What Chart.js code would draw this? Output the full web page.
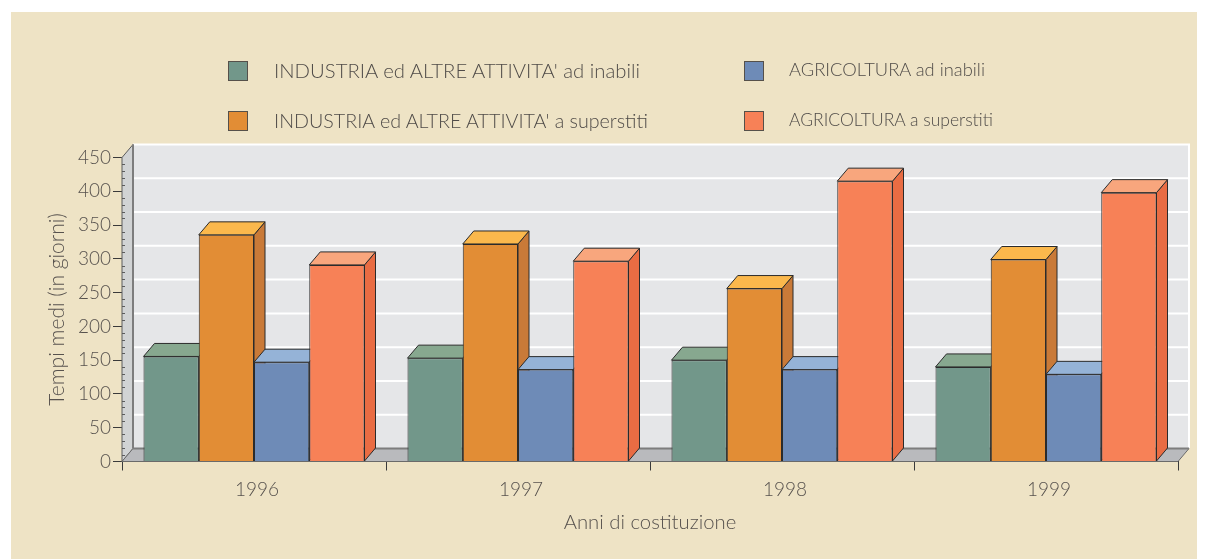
<!DOCTYPE html>
<html lang="it">
<head>
    <meta charset="UTF-8">
    <title>Tempi medi</title>
    <script src="https://cdn.jsdelivr.net/npm/chart.js"></script>
    <style>
        html, body { margin: 0; padding: 0; background: #fff; overflow: hidden; }
        #pannello { position: absolute; left: 11px; top: 12px; width: 1186px; height: 547px; background: #eee3c5; }
        #contenitore { position: absolute; left: 0; top: 0; width: 1208px; height: 559px; }
        .voce { position: absolute; font-family: Lato, sans-serif; font-weight: 300; color: #4f4b48; white-space: nowrap; transform-origin: left center; }
        .quadro { position: absolute; width: 20px; height: 20px; box-sizing: border-box; border: 1px solid #55504a; }
    </style>
</head>
<body>
    <div id="pannello"></div>
    <div id="contenitore"><canvas id="grafico"></canvas></div>
    <div id="legenda"></div>

    <script>
        const anni = ['1996', '1997', '1998', '1999'];
        const nomiSerie = [
            "INDUSTRIA ed ALTRE ATTIVITA' ad inabili",
            "INDUSTRIA ed ALTRE ATTIVITA' a superstiti",
            'AGRICOLTURA ad inabili',
            'AGRICOLTURA a superstiti'
        ];
        const industriaInabili = [155.5, 153, 150, 140];
        const industriaSuperstiti = [335.5, 322, 256, 299];
        const agricolturaInabili = [147, 136, 136, 129];
        const agricolturaSuperstiti = [291, 296.5, 415, 398];

        const coloriFronte = ['#72978a', '#e28d35', '#6e8bb7', '#f78157'];
        const coloriSopra = ['#87a88f', '#fbb84c', '#95b3d7', '#f8a67d'];
        const coloriLato = ['#5f8072', '#c97a38', '#5a779f', '#e96c43'];

        const dx = 11, dy = -13;

        function poligono(c, punti, riempi, bordo) {
            c.beginPath();
            punti.forEach((p, i) => i ? c.lineTo(p[0], p[1]) : c.moveTo(p[0], p[1]));
            c.closePath();
            c.fillStyle = riempi;
            c.fill();
            if (bordo) {
                c.strokeStyle = bordo;
                c.lineWidth = 1;
                c.stroke();
            }
        }

        function linea(c, x1, y1, x2, y2, colore, spessore) {
            c.strokeStyle = colore;
            c.lineWidth = spessore;
            c.beginPath();
            c.moveTo(x1, y1);
            c.lineTo(x2, y2);
            c.stroke();
        }

        const scena3d = {
            id: 'scena3d',
            beforeDatasetsDraw(chart) {
                const c = chart.ctx, a = chart.chartArea, y = chart.scales.y;
                // parete di fondo, parete sinistra e pavimento
                poligono(c, [[a.left + dx, a.top + dy], [a.right + dx, a.top + dy], [a.right + dx, a.bottom + dy], [a.left + dx, a.bottom + dy]], '#e5e6e8');
                y.ticks.forEach(t => {
                    if (t.value === 0) return;
                    const py = y.getPixelForValue(t.value) + dy;
                    linea(c, a.left + dx, py, a.right + dx + 1, py, '#fff', 2);
                });
                linea(c, a.right + dx, a.top + dy, a.right + dx, a.bottom + dy, '#fff', 2);
                poligono(c, [[a.left, a.top], [a.left + dx, a.top + dy], [a.left + dx, a.bottom + dy], [a.left, a.bottom]], '#d1d3d4', '#5c5c5c');
                linea(c, a.left + dx, a.top + dy, a.left + dx, a.bottom + dy, '#7d7d7d', 2);
                poligono(c, [[a.left, a.bottom], [a.left + dx, a.bottom + dy], [a.right + dx, a.bottom + dy], [a.right, a.bottom]], '#b9babd', '#6a6a6a');
                linea(c, a.left + dx, a.bottom + dy, a.right + dx, a.bottom + dy, '#7d7d7d', 2);
                // tacche minori sull'asse verticale
                for (let v = 10; v < y.max; v += 10) {
                    if (v % 50 === 0) continue;
                    const py = Math.round(y.getPixelForValue(v)) + 0.5;
                    linea(c, a.left, py, a.left + 3, py, '#5c5c5c', 1);
                }
            },
            beforeDatasetDraw() {
                return false;
            },
            afterDatasetsDraw(chart) {
                const c = chart.ctx;
                // serie da sinistra a destra, ogni barra copre il lato della precedente
                chart.data.datasets.forEach((ds, i) => {
                    chart.getDatasetMeta(i).data.forEach(b => {
                        const l = b.x - b.width / 2, r = b.x + b.width / 2, t = b.y, f = b.base;
                        poligono(c, [[r, t], [r + dx, t + dy], [r + dx, f + dy], [r, f]], coloriLato[i], '#2b2b2b');
                        poligono(c, [[l, t], [l + dx, t + dy], [r + dx, t + dy], [r, t]], coloriSopra[i], '#2b2b2b');
                        b.draw(c);
                    });
                });
            }
        };

        const colTesto = '#57524e';
        const fontTick = { family: 'Lato', weight: '300', size: 19 };
        const fontTitoloX = { family: 'Lato', weight: '300', size: 20.3 };
        const fontTitoloY = { family: 'Lato', weight: '300', size: 21 };

        new Chart(document.getElementById('grafico'), {
            type: 'bar',
            data: {
                labels: anni,
                datasets: [industriaInabili, industriaSuperstiti, agricolturaInabili, agricolturaSuperstiti].map((valori, i) => ({
                    label: nomiSerie[i],
                    data: valori,
                    backgroundColor: coloriFronte[i],
                    borderColor: '#2b2b2b',
                    borderWidth: 1,
                    categoryPercentage: 221 / 264,
                    barPercentage: 1
                }))
            },
            options: {
                responsive: true,
                maintainAspectRatio: false,
                animation: false,
                layout: { padding: { left: 0, right: 30, top: 157.5, bottom: 0 } },
                plugins: { legend: { display: false }, tooltip: { enabled: false } },
                scales: {
                    x: {
                        afterFit(s) { s.height = 97.5; },
                        border: { color: '#2b2b2b', width: 1 },
                        grid: { drawOnChartArea: false, drawTicks: true, tickLength: 9, color: '#3a3a3a', offset: true },
                        ticks: { color: colTesto, font: fontTick, padding: 8, labelOffset: 3, maxRotation: 0 },
                        title: { display: true, text: 'Anni di costituzione', color: colTesto, font: fontTitoloX, padding: { top: 0, bottom: 24 } }
                    },
                    y: {
                        min: 0,
                        max: 450,
                        afterFit(s) { s.width = 122; },
                        border: { color: '#3a3a3a', width: 1 },
                        grid: { drawOnChartArea: false, drawTicks: true, tickLength: 9, color: '#3a3a3a' },
                        ticks: { stepSize: 50, color: colTesto, font: fontTick, padding: 2 },
                        title: { display: true, text: 'Tempi medi (in giorni)', color: colTesto, font: fontTitoloY, padding: { top: 45, bottom: 0 } }
                    }
                }
            },
            plugins: [scena3d]
        });

        // legenda su due colonne, stessi nomi e colori delle serie
        const legenda = document.getElementById('legenda');
        // x quadro, y quadro, x testo, y testo, corpo, larghezza del testo
        const posizioni = [
            [228, 61, 274, 58, 20, 366],
            [228, 111, 274, 108, 20, 374],
            [744, 61, 789, 58, 17.5, 196],
            [744, 111, 789, 108, 17.5, 204]
        ];
        nomiSerie.forEach((nome, i) => {
            const p = posizioni[i];
            const q = document.createElement('div');
            q.className = 'quadro';
            q.style.cssText = `left:${p[0]}px;top:${p[1]}px;background:${coloriFronte[i]}`;
            legenda.appendChild(q);
            const v = document.createElement('div');
            v.className = 'voce';
            v.textContent = nome;
            v.style.cssText = `left:${p[2]}px;top:${p[3]}px;font-size:${p[4]}px;line-height:24px`;
            legenda.appendChild(v);
            v.style.transform = `scaleX(${p[5] / v.getBoundingClientRect().width})`;
        });
    </script>
</body>
</html>
